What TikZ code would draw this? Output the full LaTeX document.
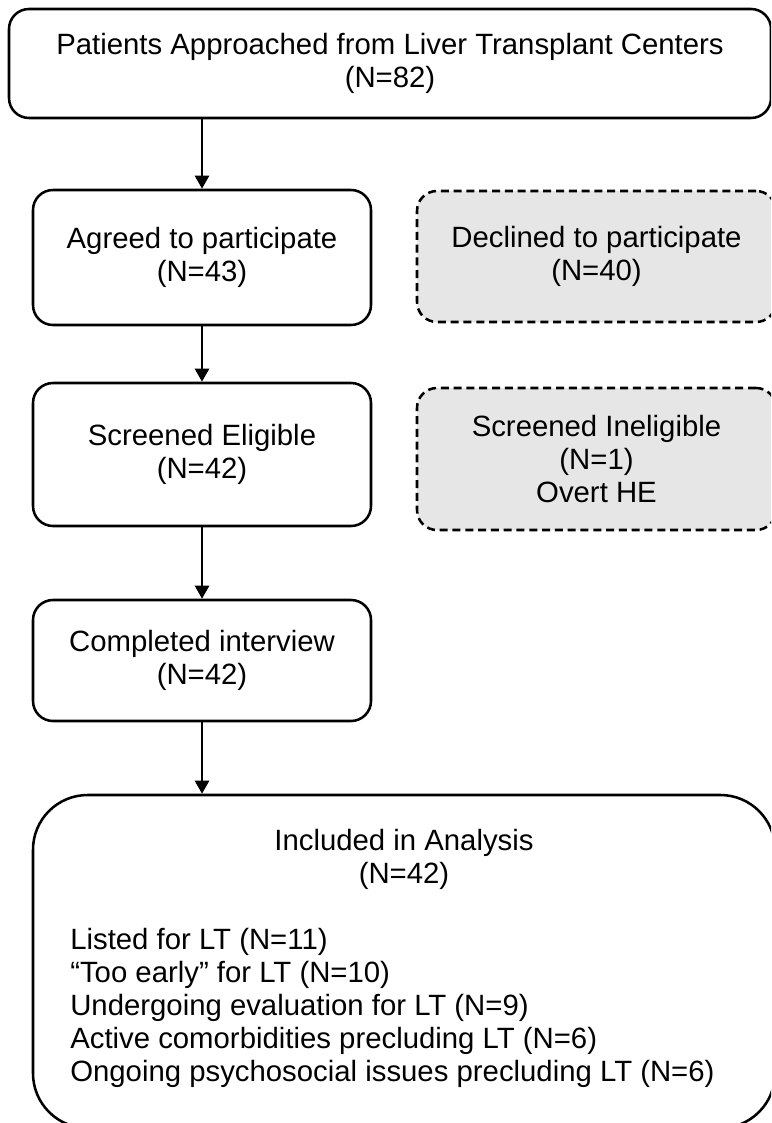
\documentclass[tikz,border=0pt]{standalone}
\usepackage{fontspec}
\setmainfont{Liberation Sans}
\usetikzlibrary{arrows.meta}
\definecolor{boxgray}{RGB}{230,230,230}
\begin{document}
\begin{tikzpicture}[x=0.75pt,y=-0.75pt,
  txt/.style={font=\fontsize{22}{24.9}\selectfont, align=center, inner sep=0pt},
  box/.style={txt, draw=black, line width=1.9pt, rounded corners=15pt},
  optbox/.style={box, fill=boxgray, dash pattern=on 6pt off 3.6pt},
  arr/.style={draw=black, line width=1.9pt, -{Triangle[width=10.5pt,length=9.75pt]}}
]
% page frame
\clip (0,0) rectangle (771,1123);

% main flow
\node[box, minimum width=571.5pt, minimum height=81.75pt] (top) at (390,63.5)
  {Patients Approached from Liver Transplant Centers\\(N=82)};
\node[box, minimum width=253.5pt, minimum height=101.25pt] (agreed) at (202,257.5)
  {Agreed to participate\\(N=43)};
\node[box, minimum width=253.5pt, minimum height=107.25pt] (eligible) at (202,454.5)
  {Screened Eligible\\(N=42)};
\node[box, minimum width=253.5pt, minimum height=90.75pt] (completed) at (202,660.5)
  {Completed interview\\(N=42)};
\node[box, rounded corners=41pt, minimum width=556.5pt, minimum height=249.75pt] (included) at (404,961.5) {};
\node[txt] (inctitle) at (404,859) {Included in Analysis\\(N=42)};
\node[txt, align=left, anchor=west] (inclist) at (70,1008)
  {Listed for LT (N=11)\\
   “Too early” for LT (N=10)\\
   Undergoing evaluation for LT (N=9)\\
   Active comorbidities precluding LT (N=6)\\
   Ongoing psychosocial issues precluding LT (N=6)};

% exclusions
\node[optbox, minimum width=269.25pt, minimum height=98.25pt] (declined) at (596.5,256.5)
  {Declined to participate\\(N=40)};
\node[optbox, minimum width=269.25pt, minimum height=106.5pt] (inelig) at (596.5,459)
  {Screened Ineligible\\(N=1)\\Overt HE};

% connectors
\draw[arr] (agreed.north |- top.south) -- (agreed.north);
\draw[arr] (agreed.south) -- (eligible.north);
\draw[arr] (eligible.south) -- (completed.north);
\draw[arr] (completed.south) -- (completed.south |- included.north);
\end{tikzpicture}
\end{document}
